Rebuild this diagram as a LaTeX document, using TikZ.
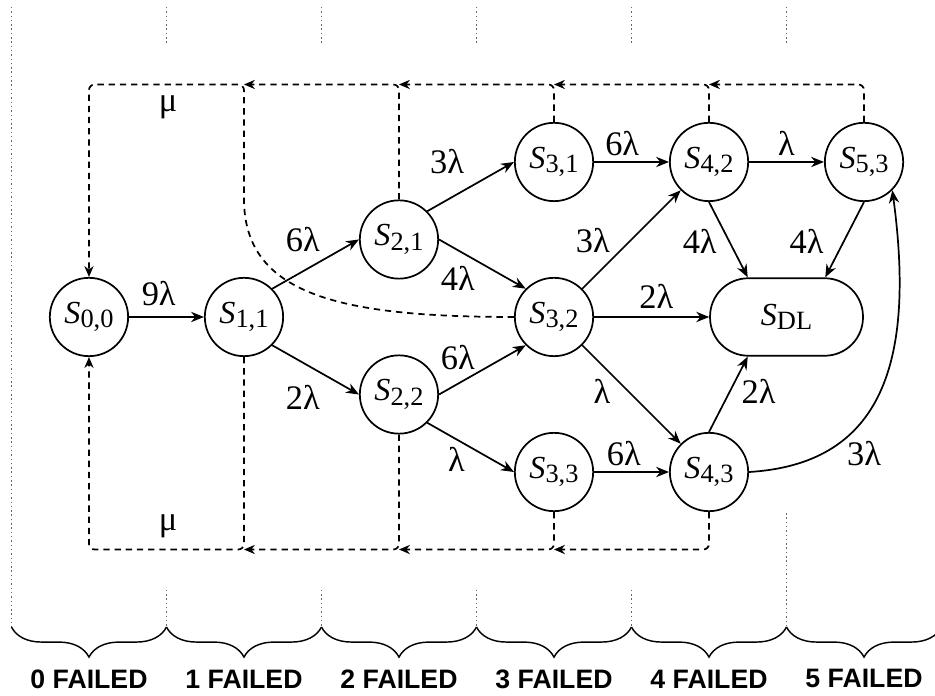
\documentclass[tikz,border=0pt]{standalone}
\usepackage{fontspec}
\setmainfont{Liberation Serif}
\newfontfamily\failfont{Liberation Sans}
\usetikzlibrary{arrows.meta,calc,decorations.pathreplacing}

\newcommand{\sname}[1]{\textit{S}\raisebox{-0.3ex}{\fontsize{9.2}{10}\selectfont #1}}

\begin{document}
\begin{tikzpicture}[x=1.9cm,y=1.9cm,
  stnode/.style={circle,draw,line width=0.6pt,minimum size=0.96cm,inner sep=0pt,font=\fontsize{11.2}{12}\selectfont},
  dlnode/.style={draw,line width=0.6pt,rounded corners=0.47cm,minimum width=1.875cm,minimum height=0.95cm,inner sep=0pt,font=\fontsize{11.2}{12}\selectfont},
  trans/.style={-{Stealth[length=4.5pt,width=3.6pt]},line width=0.6pt},
  repair/.style={-{Stealth[length=3.8pt,width=3.2pt]},line width=0.6pt,dash pattern=on 2.2pt off 1.7pt,rounded corners=2pt},
  rate/.style={font=\fontsize{12}{13}\selectfont,inner sep=0pt},
  divider/.style={line width=0.5pt,densely dotted,black!60},
  group/.style={line width=0.5pt,decorate,decoration={brace,mirror,amplitude=10.5pt}},
  failtext/.style={font=\failfont\bfseries\fontsize{9.3}{11}\selectfont,inner sep=0pt}]
\useasboundingbox (-0.574,-2.439) rectangle (5.458,2.045);

% states
\node[stnode] (s00) at (0,0) {\sname{0,0}};
\node[stnode] (s11) at (1,0) {\sname{1,1}};
\node[stnode] (s21) at (2,0.5) {\sname{2,1}};
\node[stnode] (s22) at (2,-0.5) {\sname{2,2}};
\node[stnode] (s31) at (3,1) {\sname{3,1}};
\node[stnode] (s32) at (3,0) {\sname{3,2}};
\node[stnode] (s33) at (3,-1) {\sname{3,3}};
\node[stnode] (s42) at (4,1) {\sname{4,2}};
\node[stnode] (s43) at (4,-1) {\sname{4,3}};
\node[stnode] (s53) at (5,1) {\sname{5,3}};
\node[dlnode] (sdl) at (4.5,0) {\sname{DL}};

% failures
\draw[trans] (s00.east) -- (s11.west);
\draw[trans] (s11.north east) -- (s21.west);
\draw[trans] (s11.south east) -- (s22.west);
\draw[trans] (s21.north east) -- (s31.west);
\draw[trans] (s21.east) -- (s32.north west);
\draw[trans] (s22.east) -- (s32.south west);
\draw[trans] (s22.south east) -- (s33.west);
\draw[trans] (s31.east) -- (s42.west);
\draw[trans] (s32.north east) -- (s42.south west);
\draw[trans] (s32.east) -- (sdl.west);
\draw[trans] (s32.south east) -- (s43.north west);
\draw[trans] (s33.east) -- (s43.west);
\draw[trans] (s42.east) -- (s53.west);
\draw[trans] (s42.south) -- ($(sdl.north)+(-0.25,0)$);
\draw[trans] (s53.south) -- ($(sdl.north)+(0.25,0)$);
\draw[trans] (s43.north) -- ($(sdl.south)+(-0.25,0)$);
\draw[trans] (s43.east) .. controls (5.08,-0.95) and (5.34,-0.35) .. (s53.south east);

\node[rate] (r00) at (0.45,0.15) {9λ};
\node[rate] (r11a) at (1.38,0.5) {6λ};
\node[rate] (r11b) at (1.38,-0.52) {2λ};
\node[rate] (r21a) at (2.31,1.0) {3λ};
\node[rate] (r21b) at (2.38,0.25) {4λ};
\node[rate] (r22a) at (2.38,-0.26) {6λ};
\node[rate] (r22b) at (2.37,-0.92) {λ};
\node[rate] (r31) at (3.44,1.12) {6λ};
\node[rate] (r32a) at (3.25,0.49) {3λ};
\node[rate] (r32b) at (3.66,0.13) {2λ};
\node[rate] (r32c) at (3.31,-0.48) {λ};
\node[rate] (r33) at (3.45,-0.88) {6λ};
\node[rate] (r42a) at (4.5,1.12) {λ};
\node[rate] (r42b) at (3.94,0.49) {4λ};
\node[rate] (r53) at (4.63,0.49) {4λ};
\node[rate] (r43a) at (4.32,-0.48) {2λ};
\node[rate] (r43b) at (5.0,-0.88) {3λ};

% repairs
\coordinate (up0) at (0,1.5);
\coordinate (up1) at (1,1.5);
\coordinate (up2) at (2,1.5);
\coordinate (up3) at (3,1.5);
\coordinate (up4) at (4,1.5);
\coordinate (dn0) at (0,-1.5);
\coordinate (dn1) at (1,-1.5);
\coordinate (dn2) at (2,-1.5);
\coordinate (dn3) at (3,-1.5);
\draw[repair] (s21.north) |- (up1);
\draw[repair] (s31.north) |- (up2);
\draw[repair] (s42.north) |- (up3);
\draw[repair] (s53.north) |- (up4);
\draw[repair] (s32.west) .. controls (1.6,0) and (1,0.15) .. (1,0.8) -- (up1) -- (up0) -- (s00.north);
\draw[repair] (s22.south) |- (dn1);
\draw[repair] (s33.south) |- (dn2);
\draw[repair] (s43.south) |- (dn3);
\draw[repair] (s11.south) -- (dn1) -- (dn0) -- (s00.south);
\node[rate] (mu1) at (0.51,1.35) {μ};
\node[rate] (mu2) at (0.51,-1.35) {μ};

% failure groups
\draw[divider] (-0.5,2) -- (-0.5,-2);
\draw[divider] (0.5,2) -- (0.5,1.755);
\draw[divider] (1.5,2) -- (1.5,1.755);
\draw[divider] (2.5,2) -- (2.5,1.755);
\draw[divider] (3.5,2) -- (3.5,1.755);
\draw[divider] (4.5,2) -- (4.5,1.755);
\draw[divider] (0.5,-1.76) -- (0.5,-2);
\draw[divider] (1.5,-1.76) -- (1.5,-2);
\draw[divider] (2.5,-1.76) -- (2.5,-2);
\draw[divider] (3.5,-1.76) -- (3.5,-2);
\draw[divider] (4.5,-1.265) -- (4.5,-2);
\draw[group] (-0.5,-2) -- (0.5,-2);
\draw[group] (0.5,-2) -- (1.5,-2);
\draw[group] (1.5,-2) -- (2.5,-2);
\draw[group] (2.5,-2) -- (3.5,-2);
\draw[group] (3.5,-2) -- (4.5,-2);
\draw[group] (4.5,-2) -- (5.5,-2);
\node[failtext] (f0) at (0,-2.335) {0 FAILED};
\node[failtext] (f1) at (1,-2.335) {1 FAILED};
\node[failtext] (f2) at (2,-2.335) {2 FAILED};
\node[failtext] (f3) at (3,-2.335) {3 FAILED};
\node[failtext] (f4) at (4,-2.335) {4 FAILED};
\node[failtext] (f5) at (5,-2.335) {5 FAILED};
\end{tikzpicture}
\end{document}
